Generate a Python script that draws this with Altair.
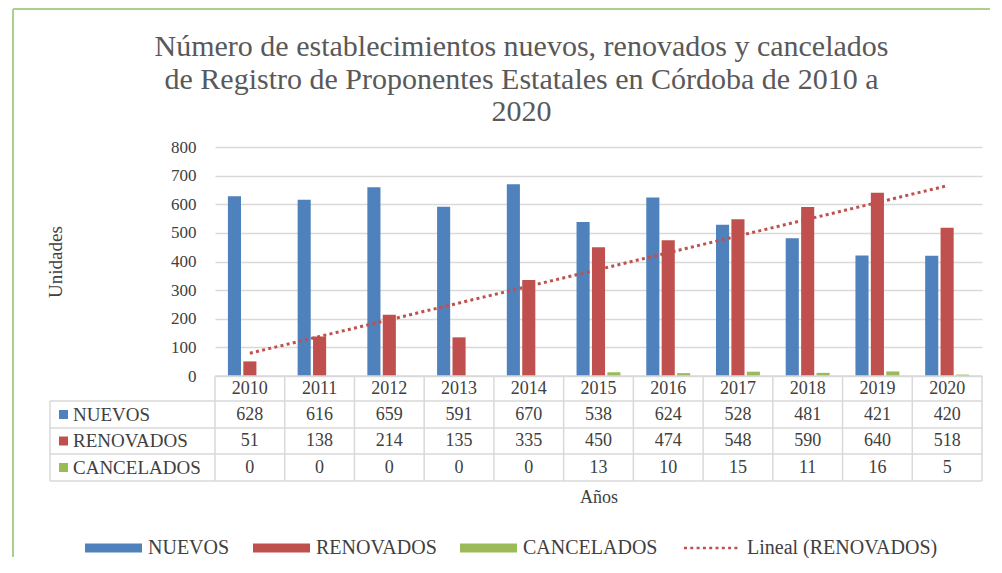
import altair as alt
import pandas as pd

# ---- data ----
years = ["2010", "2011", "2012", "2013", "2014", "2015", "2016", "2017", "2018", "2019", "2020"]
series = ["NUEVOS", "RENOVADOS", "CANCELADOS"]
nuevos = [628, 616, 659, 591, 670, 538, 624, 528, 481, 421, 420]
renovados = [51, 138, 214, 135, 335, 450, 474, 548, 590, 640, 518]
cancelados = [0, 0, 0, 0, 0, 13, 10, 15, 11, 16, 5]
trend_label = "Lineal (RENOVADOS)"
title_lines = [
    "Número de establecimientos nuevos, renovados y cancelados",
    "de Registro de Proponentes Estatales en Córdoba  de 2010 a",
    "2020",
]
y_ticks = [0, 100, 200, 300, 400, 500, 600, 700, 800]

colors = ["#4f81bd", "#c0504d", "#9bbb59"]

rows = []
for s, vals in zip(series, [nuevos, renovados, cancelados]):
    for yr, v in zip(years, vals):
        rows.append({"year": yr, "serie": s, "valor": v})
df = pd.DataFrame(rows)
years_df = pd.DataFrame({"year": years})
one = pd.DataFrame({"k": [0]})

# ---- style / layout ----
FONT = "Liberation Serif"
TXT = "#404040"
GRID = "#d9d9d9"
FRAME = "#a9d08e"
W, H = 767, 229
ROW_EDGES = [229, 254, 281, 307, 334]
ROW_MID = [241.5, 267.5, 294, 320.5]
LX0 = -165
IDX = "toNumber(datum.year) - 2009"

band_x = alt.Scale(domain=years, paddingInner=0.37, paddingOuter=0.185)
idx_scale = alt.Scale(domain=[0.5, 11.5], nice=False, zero=False)
y_scale = alt.Scale(domain=[0, 800], nice=False)
X_IDX = alt.X("idx:Q", scale=idx_scale, axis=None)
Y_AXIS = alt.Axis(values=y_ticks, format="d", title="Unidades", titleFont=FONT,
                  titleFontSize=19, titleFontWeight="normal", titleColor=TXT,
                  titleX=-150, labelFont=FONT, labelFontSize=17, labelColor=TXT,
                  labelPadding=19, ticks=False, domain=False,
                  grid=True, gridColor=GRID, gridWidth=1.5)

bars = alt.Chart(df).mark_bar().encode(
    x=alt.X("year:N", scale=band_x,
            axis=alt.Axis(labels=False, ticks=False, domain=False, grid=False,
                          title="Años", titleFont=FONT, titleFontSize=18,
                          titleFontWeight="normal", titleColor=TXT, titlePadding=112)),
    xOffset=alt.XOffset("serie:N", scale=alt.Scale(domain=series, paddingInner=0.15, paddingOuter=0)),
    y=alt.Y("valor:Q", scale=y_scale, axis=Y_AXIS),
    color=alt.Color("serie:N", scale=alt.Scale(domain=series, range=colors),
                    legend=alt.Legend(title=None, orient="none", legendX=-130, legendY=391,
                                      direction="horizontal",
                                      symbolType="M-2.222,-1H10.444V1H-2.222Z", symbolSize=81,
                                      symbolStrokeWidth=0, symbolOpacity=1,
                                      labelFont=FONT, labelFontSize=20, labelColor=TXT,
                                      labelOffset=43, columnPadding=23, padding=0)),
)

trend = (
    alt.Chart(df)
    .transform_filter(alt.datum.serie == "RENOVADOS")
    .transform_calculate(idx=IDX)
    .transform_regression("idx", "valor")
    .transform_calculate(tendencia=f"'{trend_label}'")
    .mark_line(color=colors[1], strokeWidth=3)
    .encode(
        x=X_IDX,
        y=alt.Y("valor:Q", scale=y_scale, axis=Y_AXIS),
        strokeDash=alt.StrokeDash(
            "tendencia:N",
            scale=alt.Scale(domain=[trend_label], range=[[3, 3.3]]),
            legend=alt.Legend(title=None, orient="none", legendX=469, legendY=391,
                              symbolType="M-2.222,0H10.222", symbolSize=81,
                              symbolStrokeWidth=2.5, symbolStrokeColor=colors[1],
                              labelFont=FONT, labelFontSize=20, labelColor=TXT,
                              labelOffset=43, labelLimit=400, padding=0)),
    )
)

layers = []
# table vertical lines
layers.append(
    alt.Chart(years_df).transform_calculate(edge=IDX + " - 0.5")
    .mark_rule(color=GRID, strokeWidth=1.5)
    .encode(x=alt.X("edge:Q", scale=idx_scale, axis=None),
            y=alt.value(ROW_EDGES[0]), y2=alt.value(ROW_EDGES[-1]))
)
layers.append(alt.Chart(one).mark_rule(color=GRID, strokeWidth=1.5).encode(
    x=alt.value(W), y=alt.value(ROW_EDGES[0]), y2=alt.value(ROW_EDGES[-1])))
layers.append(alt.Chart(one).mark_rule(color=GRID, strokeWidth=1.5).encode(
    x=alt.value(LX0), y=alt.value(ROW_EDGES[1]), y2=alt.value(ROW_EDGES[-1])))
# table horizontal lines
for i, ye in enumerate(ROW_EDGES):
    layers.append(alt.Chart(one).mark_rule(color=GRID, strokeWidth=1.5).encode(
        x=alt.value(0 if i == 0 else LX0), x2=alt.value(W), y=alt.value(ye)))
# header row: years
layers.append(
    alt.Chart(years_df).transform_calculate(idx=IDX)
    .mark_text(font=FONT, fontSize=18, color=TXT, baseline="middle")
    .encode(x=X_IDX, y=alt.value(ROW_MID[0]), text="year:N")
)
# value rows
for s, c, mid in zip(series, colors, ROW_MID[1:]):
    layers.append(
        alt.Chart(df).transform_filter(alt.datum.serie == s).transform_calculate(idx=IDX)
        .mark_text(font=FONT, fontSize=18, color=TXT, baseline="middle")
        .encode(x=X_IDX, y=alt.value(mid), text="valor:Q")
    )
    lab = pd.DataFrame({"serie": [s]})
    layers.append(
        alt.Chart(lab).mark_text(font=FONT, fontSize=19, color=TXT, align="left", baseline="middle")
        .encode(x=alt.value(-142), y=alt.value(mid), text="serie:N")
    )
    layers.append(
        alt.Chart(lab).mark_square(size=81, color=c, opacity=1)
        .encode(x=alt.value(-151.5), y=alt.value(mid))
    )
# outer frame (top and left edges)
layers.append(alt.Chart(one).mark_rule(color=FRAME, strokeWidth=2).encode(
    x=alt.value(-202), x2=alt.value(775), y=alt.value(-138)))
layers.append(alt.Chart(one).mark_rule(color=FRAME, strokeWidth=2).encode(
    x=alt.value(-202), y=alt.value(-138), y2=alt.value(410)))
layers.append(trend)

overlay = alt.layer(*layers)

chart = (
    alt.layer(bars, overlay)
    .resolve_scale(x="independent")
    .properties(
        width=W, height=H,
        padding={"left": 4, "top": 0, "right": 0, "bottom": 0},
        title=alt.TitleParams(text=title_lines, font=FONT, fontSize=30, fontWeight="normal",
                              color="#595959", lineHeight=32.5, anchor="middle",
                              offset=-119, dx=-77),
    )
    .configure_view(stroke=None)
)

chart.save("out.html", embed_options={"renderer": "svg", "actions": False})
